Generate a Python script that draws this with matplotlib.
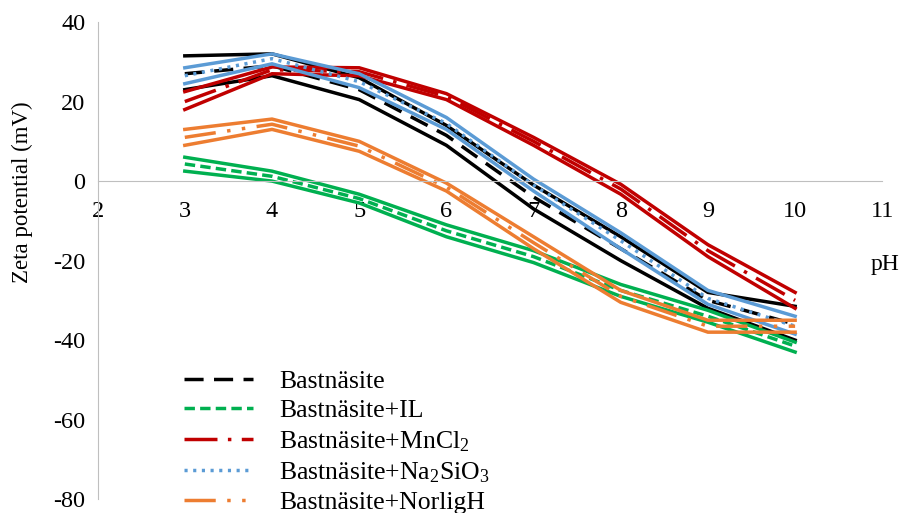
import matplotlib
matplotlib.use('Agg')
import matplotlib.pyplot as plt
import numpy as np

plt.rcParams['font.family'] = 'Liberation Serif'
plt.rcParams['mathtext.default'] = 'regular'
plt.rcParams['axes.unicode_minus'] = False

ph = [3, 4, 5, 6, 7, 8, 9, 10]

# mean zeta potential (mV) and the upper / lower bounds for each system
bast_mean = [27, 29, 23, 11.5, -4, -17, -30, -36]
bast_hi = [31.5, 32, 26, 14, -1, -14, -28, -31.5]
bast_lo = [23, 26.5, 20.5, 9, -7, -20, -32, -40]

il_mean = [4.3, 1.2, -4.4, -12.5, -19, -27.5, -34, -41.5]
il_hi = [6, 2.5, -3.3, -11, -17.5, -26, -32.5, -40.5]
il_lo = [2.5, 0, -5.5, -14, -20.5, -29, -35.5, -43]

mn_mean = [20, 28, 27.5, 21.3, 10, -2, -17.5, -30]
mn_hi = [22.5, 28.7, 28.5, 22, 11, -0.8, -16, -28]
mn_lo = [18, 27, 26.5, 20.5, 9, -3.3, -19, -32]

na_mean = [26.5, 30.8, 25, 14.5, -1, -15, -29.5, -36.5]
na_hi = [28.5, 32, 27, 16, 0.5, -13, -27.5, -34]
na_lo = [24.5, 29.5, 23.5, 13, -2.5, -17, -31, -38.5]

nor_mean = [11, 14.3, 8.8, -1.5, -15.5, -29, -36.5, -36.5]
nor_hi = [13, 15.6, 10, -0.5, -14, -27.5, -35, -35]
nor_lo = [9, 13, 7.5, -2.5, -17, -30.5, -38, -38]

labels = ['Bastnäsite', 'Bastnäsite+IL', 'Bastnäsite+MnCl$_2$',
          'Bastnäsite+Na$_2$SiO$_3$', 'Bastnäsite+NorligH']

series = [
    (bast_mean, bast_hi, bast_lo, '#000000', (5.5, 3.0)),
    (il_mean, il_hi, il_lo, '#00B050', (3.0, 1.5)),
    (mn_mean, mn_hi, mn_lo, '#C00000', (9.5, 3.0, 1, 3.0)),
    (na_mean, na_hi, na_lo, '#5B9BD5', (0.9, 1.6)),
    (nor_mean, nor_hi, nor_lo, '#ED7D31', (9.0, 3.3, 1, 3.3, 1, 3.3)),
]

fig = plt.figure(figsize=(9.04, 5.13), dpi=100)
ax = fig.add_axes([0.108, 0.027, 0.868, 0.930])

lw = 2.5
for (m, hi, lo, c, d), lab in zip(series, labels):
    ax.plot(ph, hi, color=c, lw=lw, solid_joinstyle='miter')
    ax.plot(ph, lo, color=c, lw=lw, solid_joinstyle='miter')
    ax.plot(ph, m, color=c, lw=lw, dashes=d, label=lab)

ax.set_xlim(2, 11)
ax.set_ylim(-80, 40)
ax.set_xticks(range(2, 12))
ax.set_yticks(range(-80, 41, 20))
ax.tick_params(axis='both', length=0, labelsize=17.5)
ax.tick_params(axis='x', pad=14)
ax.tick_params(axis='y', pad=9)

ax.spines['top'].set_visible(False)
ax.spines['right'].set_visible(False)
ax.spines['bottom'].set_position(('data', 0))
ax.spines['bottom'].set_color('#BFBFBF')
ax.spines['left'].set_color('#BFBFBF')

ax.set_ylabel('Zeta potential (mV)', fontsize=16.5)
ax.yaxis.set_label_coords(-0.083, 0.644)
ax.text(11.03, -21, 'pH', fontsize=17, ha='center', va='center')

leg = ax.legend(loc='lower left', bbox_to_anchor=(0.11, -0.031), frameon=False,
                fontsize=18.5, handlelength=2.7, handletextpad=1.0,
                labelspacing=0.25, borderaxespad=0, borderpad=0)

fig.savefig('out.png', dpi=100)
